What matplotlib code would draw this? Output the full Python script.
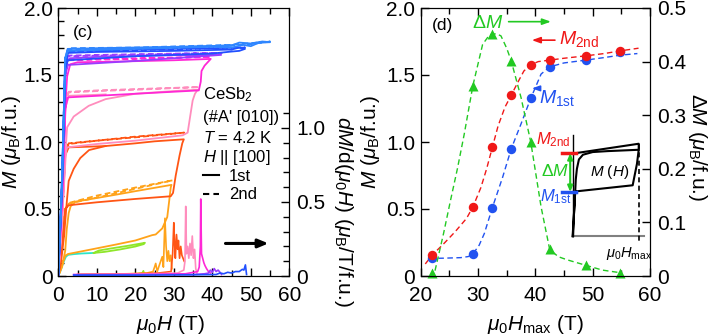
import matplotlib
matplotlib.use('Agg')
import matplotlib.pyplot as plt
from matplotlib.ticker import MultipleLocator, FixedLocator, FuncFormatter
from matplotlib.lines import Line2D

plt.rcParams['font.family'] = ['Liberation Sans', 'DejaVu Sans']
plt.rcParams['mathtext.fontset'] = 'custom'
plt.rcParams['mathtext.rm'] = 'Liberation Sans'
plt.rcParams['mathtext.it'] = 'Liberation Sans:italic'
plt.rcParams['mathtext.bf'] = 'Liberation Sans:bold'
plt.rcParams['mathtext.sf'] = 'Liberation Sans'

# ---------------- Panel (c) data: M(H) loops ----------------
m22_cyan_H = [0, 0.6, 1.3, 2.0, 2.6, 4.0, 6.0, 9.2]
m22_cyan_M = [0, 0.04, 0.10, 0.145, 0.158, 0.163, 0.168, 0.172]
m22_H = [9.2, 12, 16, 20, 22.2, 22.5, 21, 18, 14, 10.5, 9.2]
m22_M = [0.172, 0.18, 0.198, 0.22, 0.238, 0.248, 0.24, 0.225, 0.207, 0.19, 0.172]

m29_1_H = [0, 0.8, 1.8, 2.5, 8, 15, 20, 24.4, 25.3, 27.0, 28.3, 28.8, 29.2, 29.4,
           25, 20, 15, 10, 4.5, 3.2, 2.7, 2.2, 1.8, 1.0, 0]
m29_1_M = [0, 0.07, 0.15, 0.164, 0.195, 0.235, 0.265, 0.305, 0.31, 0.355, 0.44, 0.56, 0.66, 0.68,
           0.658, 0.633, 0.607, 0.582, 0.555, 0.52, 0.47, 0.35, 0.19, 0.07, 0]
m29_2_H = [0, 1.0, 1.8, 2.7, 10, 20, 29.7, 20, 10, 2.7, 1.8, 1.0, 0]
m29_2_M = [0, 0.3, 0.5, 0.54, 0.585, 0.65, 0.714, 0.66, 0.6, 0.545, 0.5, 0.3, 0]

m32_1_H = [0, 1.0, 1.8, 2.7, 10, 20, 29.2, 29.8, 30.5, 31.5, 32.2, 32.6,
           25, 20, 12.3, 8.0, 5.7, 4.0, 2.7, 2.2, 1.5, 0.7, 0]
m32_1_M = [0, 0.25, 0.5, 0.528, 0.55, 0.575, 0.595, 0.62, 0.75, 0.9, 0.99, 1.02,
           1.005, 0.99, 0.97, 0.94, 0.88, 0.8, 0.71, 0.55, 0.3, 0.1, 0]
m32_1b_H = [0, 1.0, 1.8, 2.7, 8, 12.3]
m32_1b_M = [0, 0.5, 0.9, 0.96, 0.965, 0.97]
m32_2_H = [0, 1.0, 1.8, 2.7, 10, 20, 32.7, 20, 10, 2.7, 1.8, 1.0, 0]
m32_2_M = [0, 0.5, 0.92, 0.985, 1.01, 1.035, 1.07, 1.04, 1.01, 0.99, 0.92, 0.5, 0]

m36_1_H = [0, 1.0, 2.0, 2.3, 10, 20, 32.3, 33.6, 34.3, 34.9, 35.5, 36.2,
           30, 20, 12.3, 7.9, 4.0, 2.3, 1.8, 1.0, 0]
m36_1_M = [0, 0.45, 0.93, 0.96, 0.985, 1.01, 1.05, 1.07, 1.2, 1.31, 1.36, 1.39,
           1.38, 1.36, 1.32, 1.27, 1.19, 1.11, 0.9, 0.4, 0]
m36_1b_H = [0, 1.0, 1.8, 2.7, 8, 12.3]
m36_1b_M = [0, 0.6, 1.25, 1.345, 1.35, 1.355]
m36_2_H = [0, 1.0, 1.8, 2.7, 10, 20, 36.6, 20, 10, 2.7, 1.8, 1.0, 0]
m36_2_M = [0, 0.6, 1.3, 1.37, 1.38, 1.39, 1.41, 1.395, 1.385, 1.375, 1.3, 0.6, 0]

m39_1_H = [0, 1.0, 1.8, 2.5, 20, 36.5, 37.0, 37.2, 38.0, 39.6,
           30, 15, 5, 3.1, 2.3, 2.0, 1.0, 0]
m39_1_M = [0, 0.6, 1.25, 1.333, 1.36, 1.385, 1.45, 1.53, 1.57, 1.62,
           1.61, 1.6, 1.595, 1.58, 1.49, 1.35, 0.6, 0]
m39_2_H = [0, 1.0, 1.8, 2.5, 20, 39.6, 20, 2.5, 1.8, 1.0, 0]
m39_2_M = [0, 0.7, 1.5, 1.61, 1.62, 1.635, 1.625, 1.615, 1.5, 0.7, 0]

m42_1_H = [0, 1.0, 1.8, 2.5, 20, 42.3, 30, 10, 3.0, 2.3, 1.8, 1.0, 0]
m42_1_M = [0, 0.7, 1.5, 1.575, 1.605, 1.65, 1.648, 1.635, 1.625, 1.6, 1.5, 0.7, 0]
m42_2_H = [0, 1.0, 1.8, 2.5, 20, 42.5, 20, 2.5, 1.8, 1.0, 0]
m42_2_M = [0, 0.7, 1.55, 1.64, 1.65, 1.665, 1.655, 1.645, 1.55, 0.7, 0]

m48_1_H = [0, 1.0, 1.8, 2.5, 20, 40, 45, 47, 48.5, 47, 45, 30, 10, 2.5, 1.8, 1.0, 0]
m48_1_M = [0, 0.7, 1.55, 1.61, 1.64, 1.66, 1.675, 1.68, 1.695, 1.705, 1.69, 1.68, 1.672, 1.665, 1.55, 0.7, 0]
m48_2_H = [0, 1.0, 1.8, 2.5, 20, 48.5, 20, 2.5, 1.8, 1.0, 0]
m48_2_M = [0, 0.7, 1.6, 1.675, 1.685, 1.705, 1.69, 1.68, 1.6, 0.7, 0]

m55_1_H = [0, 1.0, 1.8, 2.5, 20, 40, 45, 48, 50, 52, 55, 53, 50, 47, 45, 30, 10, 2.5, 1.8, 1.0, 0]
m55_1_M = [0, 0.75, 1.62, 1.68, 1.695, 1.71, 1.705, 1.725, 1.715, 1.74, 1.745, 1.75, 1.735, 1.742, 1.72, 1.71, 1.70, 1.695, 1.62, 0.75, 0]
m55_2_H = [0, 1.0, 1.8, 2.5, 20, 40, 50, 55, 45, 20, 2.5, 1.8, 1.0, 0]
m55_2_M = [0, 0.75, 1.63, 1.69, 1.70, 1.715, 1.73, 1.75, 1.725, 1.705, 1.70, 1.63, 0.75, 0]

# ---------------- Panel (c) data: dM/dH traces ----------------
dmdh_green_H = [5.5, 10, 15, 20, 21.8, 22.1, 22.4]
dmdh_green = [0.01, 0.01, 0.01, 0.012, 0.02, 0.035, 0.01]
dmdh_orange_H = [6, 12, 18, 23, 24.6, 25.0, 25.3, 25.7, 26.2, 26.6, 27.0, 27.3, 27.7, 28.0, 28.3, 28.6, 28.9, 29.2, 29.5]
dmdh_orange = [0.01, 0.012, 0.015, 0.02, 0.03, 0.06, 0.085, 0.03, 0.07, 0.1, 0.13, 0.06, 0.39, 0.2, 0.1, 0.17, 0.1, 0.14, 0.05]
dmdh_orangered_H = [5, 12, 20, 26, 29.3, 29.7, 30.0, 30.2, 30.4, 30.7, 31.0, 31.2, 31.5, 31.8, 32.1, 32.4, 32.7]
dmdh_orangered = [0.01, 0.012, 0.015, 0.02, 0.03, 0.15, 0.36, 0.22, 0.12, 0.28, 0.18, 0.24, 0.12, 0.2, 0.14, 0.12, 0.1]
dmdh_pink_H = [5, 15, 25, 31, 32.6, 32.9, 33.1, 33.3, 33.6, 33.9, 34.2, 34.5, 34.8, 35.1, 35.4, 35.7, 36.0]
dmdh_pink = [0.01, 0.012, 0.015, 0.02, 0.04, 0.1, 0.47, 0.15, 0.2, 0.12, 0.22, 0.14, 0.27, 0.12, 0.18, 0.05, 0.02]
dmdh_magenta_H = [4, 15, 25, 33, 36.2, 36.6, 36.9, 37.0, 37.2, 37.5, 37.8, 38.1, 38.5, 39.0, 39.5]
dmdh_magenta = [0.01, 0.01, 0.012, 0.015, 0.03, 0.06, 0.2, 0.52, 0.15, 0.12, 0.09, 0.07, 0.05, 0.03, 0.02]
dmdh_purple_H = [4, 20, 35, 38, 39, 39.5, 40, 40.5, 41, 41.5, 42, 42.4]
dmdh_purple = [0.008, 0.008, 0.01, 0.015, 0.02, 0.04, 0.025, 0.05, 0.03, 0.04, 0.025, 0.01]
dmdh_blue_H = [4, 20, 35, 41, 42, 43, 44, 45, 46, 47, 47.8, 48.2, 48.6, 48.9]
dmdh_blue = [0.006, 0.006, 0.008, 0.01, 0.02, 0.015, 0.025, 0.02, 0.03, 0.03, 0.045, 0.04, 0.075, 0.01]

# ---------------- Panel (d) data ----------------
Hmax = [22.0, 29.1, 32.5, 35.8, 39.2, 42.5, 48.8, 54.8]
M_2nd = [0.156, 0.515, 0.96, 1.35, 1.576, 1.611, 1.643, 1.68]
M_1st = [0.135, 0.164, 0.51, 0.95, 1.326, 1.561, 1.611, 1.672]
dM = [0.005, 0.355, 0.451, 0.401, 0.25, 0.0496, 0.02, 0.006]

red_guide_H = [20.8, 22.0, 24, 26, 28, 29.1, 30.5, 31.5, 32.5, 33.5, 34.7, 35.8, 37.0, 38.0, 39.2, 40.5, 42.5, 45, 48.8, 52, 54.8, 58]
red_guide_M = [0.09, 0.156, 0.24, 0.33, 0.43, 0.515, 0.66, 0.8, 0.96, 1.12, 1.26, 1.35, 1.45, 1.53, 1.576, 1.6, 1.611, 1.625, 1.643, 1.66, 1.68, 1.70]
blue_guide_H = [21.5, 24, 27, 28.3, 29.1, 30.2, 31.1, 32.5, 34.3, 35.8, 37.5, 39.2, 41.0, 42.5, 45, 48.8, 52, 54.8, 57.8]
blue_guide_M = [0.131, 0.133, 0.137, 0.145, 0.164, 0.23, 0.317, 0.51, 0.738, 0.95, 1.135, 1.326, 1.507, 1.561, 1.59, 1.611, 1.63, 1.648, 1.66]
green_guide_H = [22.5, 24.0, 25.2, 26.4, 27.6, 29.1, 30.8, 32.0, 32.5, 33.2, 34.0, 35.0, 35.8, 37.5, 39.2, 41.0, 42.5, 44.0, 45.6, 48.8, 51.7, 54.9]
green_guide_dM = [0.01, 0.08, 0.141, 0.2, 0.265, 0.355, 0.432, 0.45, 0.451, 0.452, 0.448, 0.425, 0.401, 0.333, 0.25, 0.129, 0.0496, 0.036, 0.03, 0.02, 0.011, 0.006]

# schematic inset M(H) (drawn in panel-(d) data coordinates)
inset_axis_H = [46.5, 46.5]
inset_axis_M = [1.05, 0.297]
inset_base_H = [46.5, 59.0]
inset_base_M = [0.297, 0.297]
inset_1st_H = [46.5, 46.78, 46.95, 47.2, 56.98, 57.26, 57.73, 58.03, 52.6, 50.0, 48.3, 47.6, 47.25, 47.05, 46.95, 46.78, 46.55]
inset_1st_M = [0.297, 0.491, 0.627, 0.632, 0.677, 0.738, 0.838, 0.942, 0.932, 0.925, 0.905, 0.87, 0.80, 0.72, 0.627, 0.5, 0.297]
inset_2nd_H = [47.07, 58.03, 58.03]
inset_2nd_M = [0.917, 0.987, 0.942]
inset_hmax_H = [58.03, 58.03]
inset_hmax_M = [0.987, 0.255]
inset_tick_H = [44.58, 47.07]
inset_m2_M = 0.917
inset_m1_M = 0.627
inset_arrow_H = 46.08

# colours
c_cyan = '#2ee6c8'
c_lime = '#8fe62a'
c_orange = '#ffa31a'
c_ored = '#ff5514'
c_pink = '#ff8dbd'
c_magenta = '#ff28d6'
c_purple = '#9a3cff'
c_blue = '#2150ff'
c_lblue = '#2f86ff'
c_red = '#f01818'
c_dblue = '#2152f0'
c_green = '#22c922'

W, Hp = 710, 336
fig = plt.figure(figsize=(7.1, 3.36), dpi=100)


def frac(x0, y0, x1, y1):
    return [x0 / W, 1 - y1 / Hp, (x1 - x0) / W, (y1 - y0) / Hp]


axc = fig.add_axes(frac(58.3, 8, 289.3, 276))
axd = fig.add_axes(frac(420.7, 8, 650, 276))

fmt1 = FuncFormatter(lambda v, p: '0' if abs(v) < 1e-9 else f'{v:.1f}')
fmt0 = FuncFormatter(lambda v, p: f'{v:.0f}')

# ---------------- Panel (c) ----------------
lw = 1.3
dash = (3.2, 1.8)
solid = [(m22_cyan_H, m22_cyan_M, c_cyan), (m22_H, m22_M, c_lime),
         (m29_1_H, m29_1_M, c_orange),
         (m32_1_H, m32_1_M, c_ored), (m32_1b_H, m32_1b_M, c_ored),
         (m36_1_H, m36_1_M, c_pink), (m36_1b_H, m36_1b_M, c_pink),
         (m39_1_H, m39_1_M, c_magenta),
         (m42_1_H, m42_1_M, c_purple),
         (m48_1_H, m48_1_M, c_blue),
         (m55_1_H, m55_1_M, c_lblue)]
dashed = [(m29_2_H, m29_2_M, c_orange), (m32_2_H, m32_2_M, c_ored),
          (m36_2_H, m36_2_M, c_pink), (m39_2_H, m39_2_M, c_magenta),
          (m42_2_H, m42_2_M, c_purple), (m48_2_H, m48_2_M, c_blue),
          (m55_2_H, m55_2_M, c_lblue)]
for h, m, c in dashed:
    axc.plot(h, m, color=c, lw=lw, dashes=dash)
for h, m, c in solid:
    axc.plot(h, m, color=c, lw=lw, solid_joinstyle='round')

axc.set_xlim(0, 60)
axc.set_ylim(0, 2.0)
axc.xaxis.set_major_locator(MultipleLocator(10))
axc.xaxis.set_minor_locator(MultipleLocator(5))
axc.yaxis.set_major_locator(MultipleLocator(0.5))
axc.yaxis.set_minor_locator(MultipleLocator(0.1))
axc.yaxis.set_major_formatter(fmt1)
axc.xaxis.set_major_formatter(fmt0)
axc.tick_params(which='both', direction='in', top=True, right=False, labelsize=15, width=1)
axc.tick_params(which='major', length=6)
axc.tick_params(which='minor', length=4.5)
axc.tick_params(axis='y', pad=4)
axc.tick_params(axis='x', pad=7)

axc2 = axc.twinx()
for h, v, c in [(dmdh_green_H, dmdh_green, c_lime), (dmdh_orange_H, dmdh_orange, c_orange),
                (dmdh_orangered_H, dmdh_orangered, c_ored), (dmdh_pink_H, dmdh_pink, c_pink),
                (dmdh_magenta_H, dmdh_magenta, c_magenta), (dmdh_purple_H, dmdh_purple, c_purple),
                (dmdh_blue_H, dmdh_blue, c_blue)]:
    axc2.plot(h, v, color=c, lw=1.2)
axc2.set_ylim(0, 1.81)
axc2.yaxis.set_major_locator(FixedLocator([0, 0.5, 1.0]))
axc2.yaxis.set_minor_locator(FixedLocator([0.1, 0.2, 0.3, 0.4, 0.6, 0.7, 0.8, 0.9, 1.1]))
axc2.yaxis.set_major_formatter(fmt1)
axc2.tick_params(axis='y', which='both', direction='in', labelsize=15, pad=5, width=1)
axc2.tick_params(axis='y', which='major', length=6)
axc2.tick_params(axis='y', which='minor', length=4.5)

axc.text(3.9, 1.815, '(c)', fontsize=12.5, va='center', ha='left')
tx = 37.6
axc.text(tx, 1.353, r'CeSb$_2$', fontsize=12, va='center')
axc.text(tx, 1.182, "(#A' [010])", fontsize=12, va='center')
axc.text(tx, 1.033, r'$T$ = 4.2 K', fontsize=12, va='center')
axc.text(tx, 0.885, r'$H$ || [100]', fontsize=12, va='center')
handles = [Line2D([], [], color='k', lw=1.5), Line2D([], [], color='k', lw=1.5, dashes=(3.0, 2.0))]
axc.legend(handles, ['1st', '2nd'], loc='upper left', bbox_to_anchor=(0.626, 0.40),
           frameon=False, fontsize=12, handlelength=0.95, handletextpad=0.6,
           labelspacing=0.22, borderpad=0, borderaxespad=0)
axc.annotate('', xy=(55.3, 0.243), xytext=(42.7, 0.243),
             arrowprops=dict(arrowstyle='-|>,head_length=0.6,head_width=0.25', color='k', lw=2.2))

# ---------------- Panel (d) ----------------
axd.plot(blue_guide_H, blue_guide_M, color=c_dblue, lw=1.0, dashes=(4, 2.5))
axd.plot(red_guide_H, red_guide_M, color=c_red, lw=1.0, dashes=(4, 2.5))
axd.plot(Hmax, M_1st, 'o', color=c_dblue, ms=6.8, mec='none', clip_on=False)
axd.plot(Hmax, M_2nd, 'o', color=c_red, ms=6.8, mec='none', clip_on=False)
axd.set_xlim(20, 60)
axd.set_ylim(0, 2.0)
axd.xaxis.set_major_locator(MultipleLocator(10))
axd.xaxis.set_minor_locator(MultipleLocator(5))
axd.yaxis.set_major_locator(MultipleLocator(0.5))
axd.yaxis.set_major_formatter(fmt1)
axd.xaxis.set_major_formatter(fmt0)
axd.tick_params(which='both', direction='in', top=True, right=False, labelsize=15, width=1)
axd.tick_params(which='major', length=6)
axd.tick_params(which='minor', length=4.5)
axd.tick_params(axis='y', pad=4)
axd.tick_params(axis='x', pad=7)

# inset schematic
axd.plot(inset_base_H, inset_base_M, color='#808080', lw=1.5)
axd.plot(inset_axis_H, inset_axis_M, color='k', lw=1.0)
axd.plot(inset_1st_H, inset_1st_M, color='k', lw=1.5, solid_joinstyle='round')
axd.plot(inset_2nd_H, inset_2nd_M, color='k', lw=1.5)
axd.plot(inset_hmax_H, inset_hmax_M, color='k', lw=1.2, dashes=(3, 2))
axd.plot(inset_tick_H, [inset_m2_M, inset_m2_M], color=c_red, lw=2.5)
axd.plot(inset_tick_H, [inset_m1_M, inset_m1_M], color=c_dblue, lw=2.5)
axd.annotate('', xy=(inset_arrow_H, inset_m1_M), xytext=(inset_arrow_H, inset_m2_M),
             arrowprops=dict(arrowstyle='<|-|>,head_length=0.35,head_width=0.15', color=c_green, lw=1.5,
                             shrinkA=0, shrinkB=0))
axd.text(52.9, 0.775, r'$M$ ($H$)', fontsize=11, ha='center', va='center')
axd.text(56.3, 0.17, r'$\mu_0H_{\rm max}$', fontsize=10.5, ha='center', va='center')
axd.text(46.2, 1.02, r'$M_{\rm 2nd}$', fontsize=12, ha='right', va='center', color=c_red)
axd.text(45.9, 0.78, r'$\Delta M$', fontsize=12.5, ha='right', va='center', color=c_green)
axd.text(46.2, 0.59, r'$M_{\rm 1st}$', fontsize=12, ha='right', va='center', color=c_dblue)

axd.text(22.0, 1.866, '(d)', fontsize=12.5, ha='left', va='center')
axd.text(29.0, 1.885, r'$\Delta M$', fontsize=14, ha='left', va='center', color=c_green)
axd.annotate('', xy=(43.2, 1.898), xytext=(34.85, 1.898),
             arrowprops=dict(arrowstyle='-|>,head_length=0.5,head_width=0.18', color=c_green, lw=1.2))
axd.text(44.2, 1.77, r'$M_{\rm 2nd}$', fontsize=14, ha='left', va='center', color=c_red)
axd.annotate('', xy=(38.9, 1.76), xytext=(43.9, 1.76),
             arrowprops=dict(arrowstyle='-|>,head_length=0.5,head_width=0.18', color=c_red, lw=1.2))
axd.text(40.7, 1.33, r'$M_{\rm 1st}$', fontsize=14, ha='left', va='center', color=c_dblue)
axd.annotate('', xy=(38.9, 1.40), xytext=(41.25, 1.40),
             arrowprops=dict(arrowstyle='-|>,head_length=0.45,head_width=0.16', color=c_dblue, lw=1.2))

axd2 = axd.twinx()
axd2.plot(green_guide_H, green_guide_dM, color=c_green, lw=1.0, dashes=(4, 2.5))
axd2.plot(Hmax, dM, '^', color=c_green, ms=7.5, mec='none', clip_on=False)
axd2.set_ylim(0, 0.5)
axd2.yaxis.set_major_locator(MultipleLocator(0.1))
axd2.yaxis.set_major_formatter(fmt1)
axd2.tick_params(axis='y', which='both', direction='in', labelsize=15, pad=5, width=1, length=6)

# axis labels
fig.text(12 / W, 1 - 142 / Hp, r'$M$ ($\mu_{\rm B}$/f.u.)', rotation=90, ha='center', va='center', fontsize=15)
fig.text(170 / W, 1 - 324 / Hp, r'$\mu_0H$ (T)', ha='center', va='center', fontsize=15)
fig.text(343 / W, 1 - 211 / Hp, r'$dM$/d($\mu_0H$) ($\mu_{\rm B}$/T/f.u.)', rotation=270,
         ha='center', va='center', fontsize=15)
fig.text(370 / W, 1 - 142 / Hp, r'$M$ ($\mu_{\rm B}$/f.u.)', rotation=90, ha='center', va='center', fontsize=15)
fig.text(535 / W, 1 - 324 / Hp, r'$\mu_0H_{\rm max}$ (T)', ha='center', va='center', fontsize=15)
fig.text(698 / W, 1 - 147 / Hp, r'$\Delta M$ ($\mu_{\rm B}$/f.u.)', rotation=270, ha='center', va='center', fontsize=15)

fig.savefig('out.png', dpi=100)
